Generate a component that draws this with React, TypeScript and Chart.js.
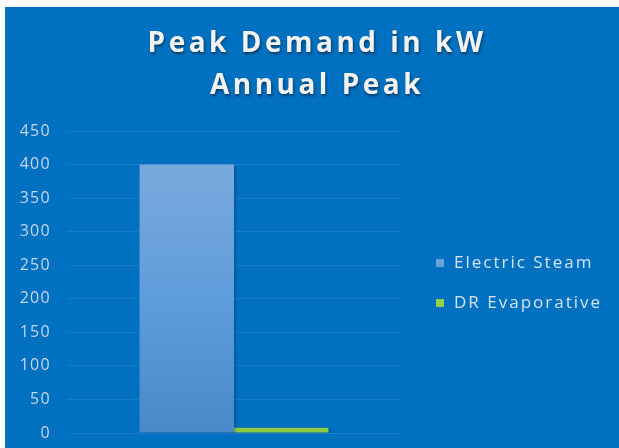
import React, { useEffect, useRef } from "react";
import { Chart, registerables } from "chart.js";

Chart.register(...registerables);

const titleLines = ["Peak Demand in kW", "Annual Peak"];
const categories = [""];
const seriesNames = ["Electric Steam", "DR Evaporative"];
const electricSteam = [400];
const drEvaporative = [8];
const yTicks = { min: 0, max: 450, step: 50 };

const BG = "#0070C0";
const FONT = "'Open Sans', 'Liberation Sans', sans-serif";

const decorPlugin = {
  id: "decor",
  beforeDraw(chart: any) {
    const { ctx, width, height } = chart;
    ctx.save();
    ctx.fillStyle = BG;
    ctx.fillRect(0, 0, width, height);
    ctx.restore();
    (ctx as any).letterSpacing = "1.3px";
  },
  beforeDatasetDraw(chart: any) {
    const ctx = chart.ctx;
    ctx.save();
    ctx.shadowColor = "rgba(0,0,0,0.25)";
    ctx.shadowOffsetX = 2;
    ctx.shadowOffsetY = 1;
    ctx.shadowBlur = 3;
  },
  afterDatasetDraw(chart: any) {
    chart.ctx.restore();
  },
  afterDraw(chart: any) {
    const { ctx } = chart;
    // title
    ctx.save();
    ctx.font = `bold 28px ${FONT}`;
    (ctx as any).letterSpacing = "3.5px";
    ctx.textAlign = "center";
    ctx.textBaseline = "middle";
    ctx.fillStyle = "#F2F2F2";
    ctx.shadowColor = "rgba(0,0,0,0.45)";
    ctx.shadowOffsetX = 1;
    ctx.shadowOffsetY = 2;
    ctx.shadowBlur = 3;
    titleLines.forEach((t, i) => ctx.fillText(t, 312, 37 + i * 42));
    ctx.restore();
    // legend
    ctx.save();
    ctx.font = `17px ${FONT}`;
    (ctx as any).letterSpacing = "2px";
    ctx.textAlign = "left";
    ctx.textBaseline = "middle";
    chart.data.datasets.forEach((ds: any, i: number) => {
      const y = 256 + i * 40;
      ctx.fillStyle = ds.legendColor;
      ctx.fillRect(431, y - 4, 8, 8);
      ctx.fillStyle = "#D6E2F0";
      ctx.fillText(ds.label, 449, y);
    });
    ctx.restore();
  },
};

export default function App() {
  const ref = useRef<HTMLCanvasElement>(null);
  useEffect(() => {
    document.documentElement.style.overflow = "hidden";
    document.body.style.margin = "0";
    document.body.style.overflow = "hidden";
    const canvas = ref.current!;
    const chart = new Chart(canvas, {
      type: "bar",
      data: {
        labels: categories,
        datasets: [
          {
            label: seriesNames[0],
            data: electricSteam,
            legendColor: "#6A9FD8",
            backgroundColor: (c: any) => {
              const ch = c.chart;
              const y = ch.scales?.y;
              if (!ch.chartArea || !y) return "#5B9BD5";
              const g = ch.ctx.createLinearGradient(0, y.getPixelForValue(electricSteam[0]), 0, y.getPixelForValue(0));
              g.addColorStop(0, "#79A9DD");
              g.addColorStop(0.5, "#5F9CDB");
              g.addColorStop(1, "#4A89CA");
              return g;
            },
          } as any,
          {
            label: seriesNames[1],
            data: drEvaporative,
            legendColor: "#92D050",
            backgroundColor: "#8CCB45",
          } as any,
        ],
      },
      plugins: [decorPlugin],
      options: {
        animation: false,
        responsive: false,
        maintainAspectRatio: false,
        layout: { padding: { top: 124, right: 219, bottom: 15, left: 0 } },
        datasets: { bar: { categoryPercentage: 0.569, barPercentage: 1 } },
        plugins: {
          legend: { display: false },
          title: { display: false },
          tooltip: { enabled: false },
        },
        scales: {
          x: { display: false },
          y: {
            min: yTicks.min,
            max: yTicks.max,
            ticks: {
              stepSize: yTicks.step,
              color: "#C5D6EA",
              font: { family: FONT, size: 16 },
              padding: 0,
            },
            grid: { color: "rgba(255,255,255,0.1)", drawTicks: true, tickLength: 17, tickColor: "rgba(0,0,0,0)" },
            border: { display: false },
            afterFit: (s: any) => {
              s.width = 63;
            },
          },
        },
      } as any,
    });
    return () => chart.destroy();
  }, []);
  return (
    <div style={{ position: "relative", width: 619, height: 448, background: "#fff", overflow: "hidden" }}>
      <canvas ref={ref} width={614} height={441} style={{ position: "absolute", left: 5, top: 7, width: 614, height: 441 }} />
    </div>
  );
}
